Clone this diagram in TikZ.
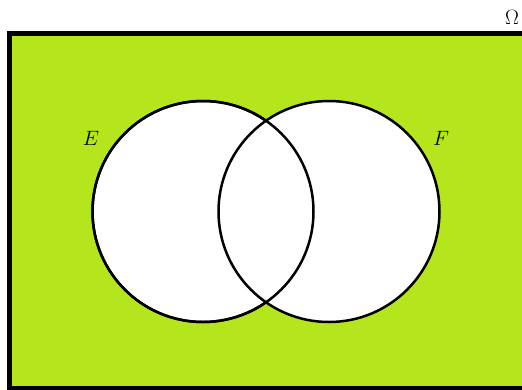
\documentclass[tikz,border=0pt]{standalone}
\definecolor{vgreen}{HTML}{B5E61D}
\tikzset{
  setcircle/.style={draw=black, line width=2.5pt, fill=white},
  setlabel/.style={font=\fontsize{22}{26}\selectfont},
}
\begin{document}
\begin{tikzpicture}[x=1pt,y=-1pt]
\useasboundingbox (0,0) rectangle (522,389);
\begin{scope}
\clip (0,0) rectangle (522,389);
\draw[line width=5pt, fill=vgreen] (9.5,33) rectangle (524,388);
\end{scope}
\node[setlabel] (omega) at (512,17) {$\Omega$};
\filldraw[setcircle] (203,211.5) circle (110.5);
\filldraw[fill=white, draw=none] (329,211.5) circle (110.5);
\begin{scope}
\clip (329,211.5) circle (110.5);
\fill[white] (203,211.5) circle (110.5);
\end{scope}
\draw[setcircle, fill=none] (203,211.5) circle (110.5);
\draw[setcircle, fill=none] (329,211.5) circle (110.5);
\node[setlabel] (E) at (91,138) {$E$};
\node[setlabel] (F) at (441,138) {$F$};
\end{tikzpicture}
\end{document}
